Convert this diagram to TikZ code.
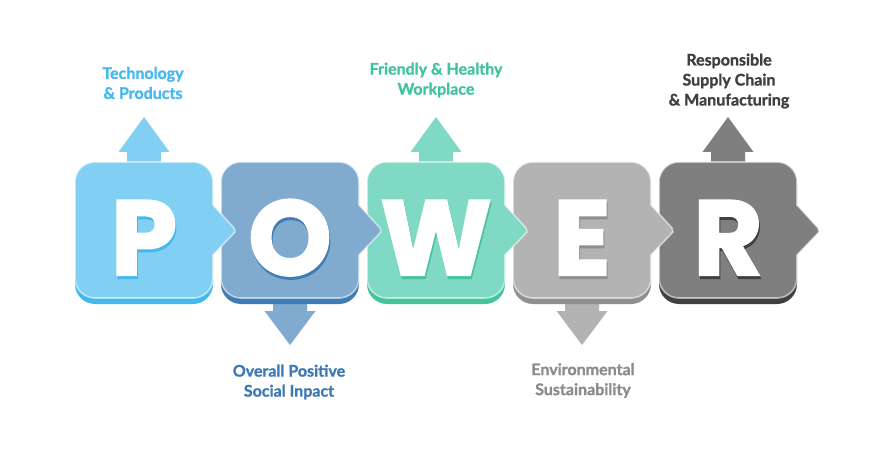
\documentclass[tikz,border=0pt]{standalone}
\usepackage{fontspec}
\setmainfont{Lato}
\newfontfamily\lblfont[FakeBold=1.2]{Lato Bold}
\newfontfamily\bigfont[FakeBold=2.2]{Poppins Bold}
\definecolor{cPf}{HTML}{81D0F4}\definecolor{cPs}{HTML}{44B8EE}
\definecolor{cOf}{HTML}{80AACE}\definecolor{cOs}{HTML}{3F7CB3}
\definecolor{cWf}{HTML}{80D9C4}\definecolor{cWs}{HTML}{43C49E}
\definecolor{cEf}{HTML}{B3B3B3}\definecolor{cEs}{HTML}{8F8F8F}
\definecolor{cRf}{HTML}{7F7F7F}\definecolor{cRs}{HTML}{404040}
\definecolor{tP}{HTML}{45B9EE}\definecolor{tO}{HTML}{3D7AB5}
\definecolor{tW}{HTML}{40C4A0}\definecolor{tE}{HTML}{8C8C8C}
\definecolor{tR}{HTML}{3F3F3F}
\tikzset{
  lbl/.style={font=\lblfont\fontsize{16}{20}\selectfont, align=center, inner sep=0pt},
  letter/.style={font=\bigfont\fontsize{106}{106}\selectfont, anchor=base, inner sep=0pt, text=white},
  edge/.style={draw=white, draw opacity=0.55, line width=1.6pt}
}
% #1 left x, #2 fill, #3 shadow, #4 letter, #5 name
\newcommand{\powbox}[5]{%
  \pgfmathsetmacro{\L}{#1}\pgfmathsetmacro{\R}{#1+138}\pgfmathsetmacro{\C}{#1+69}%
  \fill[#3] (\L,180) -- (\L,280) arc[start angle=180,end angle=90,radius=20] -- (\R-20,300)
     arc[start angle=90,end angle=0,radius=20] -- (\R,180) arc[start angle=0,end angle=-90,radius=20]
     -- (\L+20,160) arc[start angle=270,end angle=180,radius=20] -- cycle;
  \path[fill=#2, edge] (\L,186) -- (\L,282) arc[start angle=180,end angle=90,radius=20] -- (\R-20,302)
     arc[start angle=90,end angle=0,radius=20] -- (\R,259) -- (\R+21,236) -- (\R+22,232) -- (\R,209)
     -- (\R,186) arc[start angle=0,end angle=-90,radius=20] -- (\L+20,166)
     arc[start angle=270,end angle=180,radius=20] -- cycle;
  \node[letter, text=#3] (#5s) at (\C+1,186) {#4};
  \node[letter] (#5) at (\C,189) {#4};
}
\newcommand{\uparr}[2]{%
  \fill[#2] (#1-17,300) -- (#1-17,312) -- (#1-25.5,312) -- (#1,347) -- (#1+25.5,312) -- (#1+17,312) -- (#1+17,300) -- cycle;}
\newcommand{\downarr}[2]{%
  \fill[#2] (#1-17,168) -- (#1-17,153) -- (#1-25.5,153) -- (#1,119) -- (#1+25.5,153) -- (#1+17,153) -- (#1+17,168) -- cycle;}
\begin{document}
\begin{tikzpicture}[x=1pt,y=1pt]
\useasboundingbox[fill=white] (0,0) rectangle (893,464);
% arrows
\uparr{144}{cPf}
\downarr{290}{cOf}
\uparr{436}{cWf}
\downarr{582}{cEf}
\uparr{728}{cRf}
% boxes, right to left
\powbox{659}{cRf}{cRs}{R}{r}
\powbox{513}{cEf}{cEs}{E}{e}
\powbox{367}{cWf}{cWs}{W}{w}
\powbox{221}{cOf}{cOs}{O}{o}
\powbox{75}{cPf}{cPs}{P}{p}
% labels
\node[lbl, text=tP] (lp) at (143,381) {Technology\\\& Products};
\node[lbl, text=tO] (lo) at (289,82) {Overall Positive\\Social Inpact};
\node[lbl, text=tW] (lw) at (436,384) {Friendly \& Healthy\\Workplace};
\node[lbl, text=tE] (le) at (583,83.5) {Environmental\\Sustainability};
\node[lbl, text=tR] (lr) at (729,383) {Responsible\\Supply Chain\\\& Manufacturing};
\end{tikzpicture}
\end{document}
